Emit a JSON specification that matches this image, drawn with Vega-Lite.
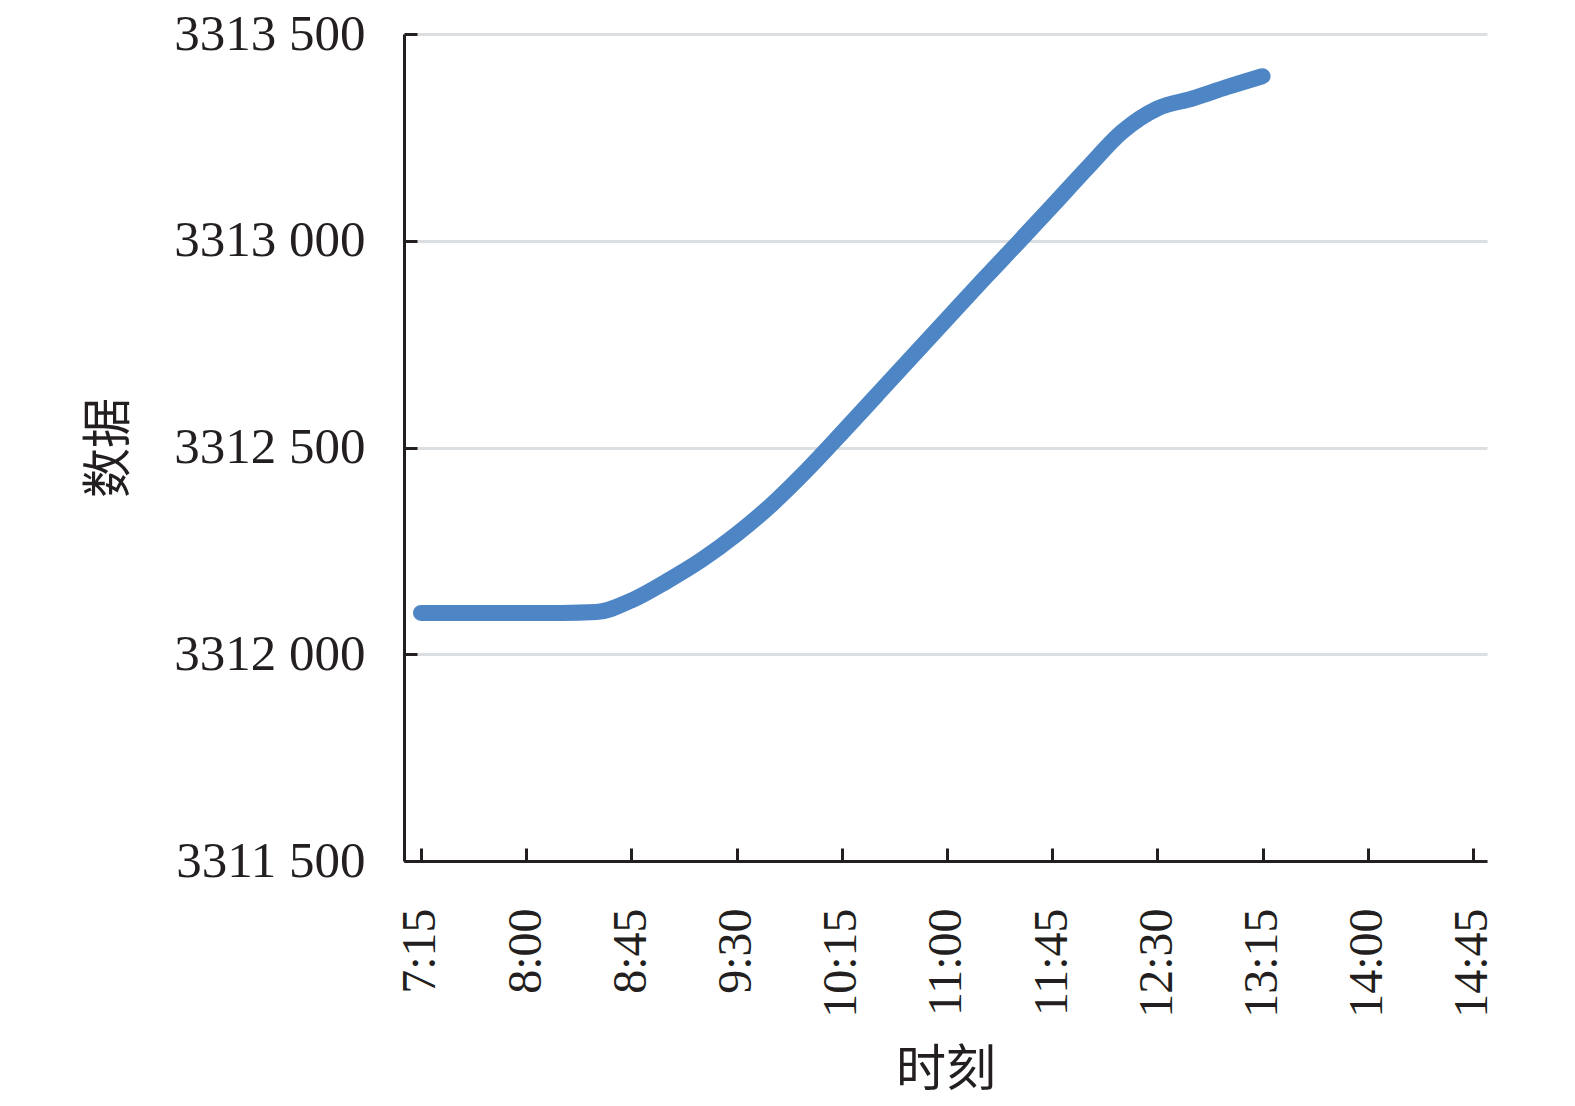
{
  "$schema": "https://vega.github.io/schema/vega-lite/v6.json",
  "description": "时刻-数据 line",
  "width": 1083,
  "height": 827,
  "autosize": "none",
  "padding": {"left": 404, "top": 34, "right": 88, "bottom": 245},
  "background": "white",
  "data": {
    "values": [
      {"time": "2020-01-01T07:15:00", "value": 3312100},
      {"time": "2020-01-01T07:30:00", "value": 3312100},
      {"time": "2020-01-01T07:45:00", "value": 3312100},
      {"time": "2020-01-01T08:00:00", "value": 3312100},
      {"time": "2020-01-01T08:15:00", "value": 3312100},
      {"time": "2020-01-01T08:30:00", "value": 3312102},
      {"time": "2020-01-01T08:45:00", "value": 3312130},
      {"time": "2020-01-01T09:00:00", "value": 3312176},
      {"time": "2020-01-01T09:15:00", "value": 3312228},
      {"time": "2020-01-01T09:30:00", "value": 3312290},
      {"time": "2020-01-01T09:45:00", "value": 3312362},
      {"time": "2020-01-01T10:00:00", "value": 3312445},
      {"time": "2020-01-01T10:15:00", "value": 3312535},
      {"time": "2020-01-01T10:30:00", "value": 3312627},
      {"time": "2020-01-01T10:45:00", "value": 3312719},
      {"time": "2020-01-01T11:00:00", "value": 3312811},
      {"time": "2020-01-01T11:15:00", "value": 3312903},
      {"time": "2020-01-01T11:30:00", "value": 3312993},
      {"time": "2020-01-01T11:45:00", "value": 3313084},
      {"time": "2020-01-01T12:00:00", "value": 3313176},
      {"time": "2020-01-01T12:15:00", "value": 3313264},
      {"time": "2020-01-01T12:30:00", "value": 3313320},
      {"time": "2020-01-01T12:45:00", "value": 3313344},
      {"time": "2020-01-01T13:00:00", "value": 3313372},
      {"time": "2020-01-01T13:15:00", "value": 3313398}
    ]
  },
  "mark": {
    "type": "line",
    "color": "#4e86c5",
    "strokeWidth": 16,
    "strokeCap": "round",
    "strokeJoin": "round",
    "interpolate": "monotone"
  },
  "encoding": {
    "x": {
      "field": "time",
      "type": "temporal",
      "title": "时刻",
      "scale": {
        "domain": [
          {"year": 2020, "month": 1, "date": 1, "hours": 7, "minutes": 7, "seconds": 44},
          {"year": 2020, "month": 1, "date": 1, "hours": 14, "minutes": 51}
        ]
      },
      "axis": {
        "values": [
          {"year": 2020, "month": 1, "date": 1, "hours": 7, "minutes": 15},
          {"year": 2020, "month": 1, "date": 1, "hours": 8, "minutes": 0},
          {"year": 2020, "month": 1, "date": 1, "hours": 8, "minutes": 45},
          {"year": 2020, "month": 1, "date": 1, "hours": 9, "minutes": 30},
          {"year": 2020, "month": 1, "date": 1, "hours": 10, "minutes": 15},
          {"year": 2020, "month": 1, "date": 1, "hours": 11, "minutes": 0},
          {"year": 2020, "month": 1, "date": 1, "hours": 11, "minutes": 45},
          {"year": 2020, "month": 1, "date": 1, "hours": 12, "minutes": 30},
          {"year": 2020, "month": 1, "date": 1, "hours": 13, "minutes": 15},
          {"year": 2020, "month": 1, "date": 1, "hours": 14, "minutes": 0},
          {"year": 2020, "month": 1, "date": 1, "hours": 14, "minutes": 45}
        ],
        "format": "%-H:%M",
        "labelAngle": -90,
        "labelAlign": "right",
        "labelBaseline": "middle",
        "labelFont": "Liberation Serif",
        "labelFontSize": 48,
        "labelColor": "#231f20",
        "labelPadding": 60,
        "labelOverlap": false,
        "labelFlush": false,
        "labelLimit": 0,
        "grid": false,
        "tickSize": -13,
        "tickWidth": 3,
        "tickColor": "#231f20",
        "domainColor": "#231f20",
        "domainWidth": 3,
        "titleFont": "Noto Sans CJK SC",
        "titleFontSize": 50,
        "titleFontWeight": "normal",
        "titleColor": "#231f20",
        "titlePadding": 28
      }
    },
    "y": {
      "field": "value",
      "type": "quantitative",
      "title": "数据",
      "scale": {"domain": [3311500, 3313500], "nice": false, "zero": false},
      "axis": {
        "values": [3311500, 3312000, 3312500, 3313000, 3313500],
        "labelExpr": "substring(toString(datum.value), 0, 4) + ' ' + substring(toString(datum.value), 4)",
        "labelFont": "Liberation Serif",
        "labelFontSize": 51,
        "labelColor": "#231f20",
        "labelPadding": 52,
        "labelFlush": false,
        "labelLimit": 0,
        "grid": true,
        "gridColor": "#dcdfe1",
        "gridWidth": 3,
        "tickSize": -13,
        "tickWidth": 3,
        "tickColor": "#231f20",
        "domainColor": "#231f20",
        "domainWidth": 3,
        "titleFont": "Noto Sans CJK SC",
        "titleFontSize": 50,
        "titleFontWeight": "normal",
        "titleColor": "#231f20",
        "titlePadding": 70
      }
    }
  },
  "config": {
    "view": {"stroke": null}
  }
}
